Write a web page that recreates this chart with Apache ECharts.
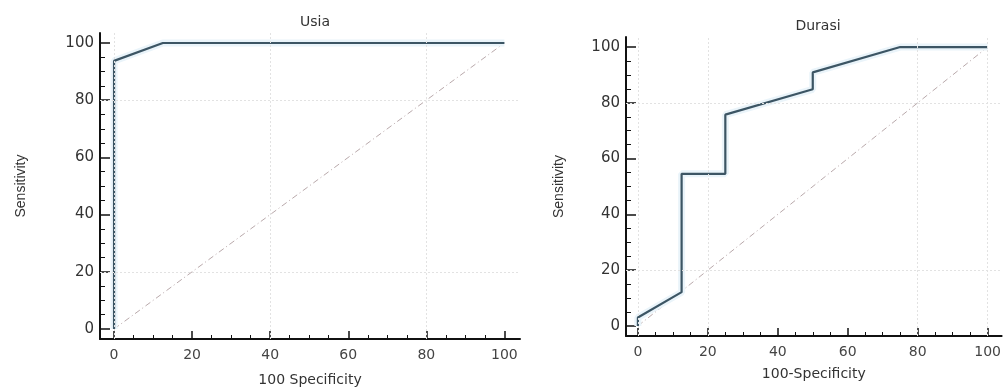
<!DOCTYPE html>
<html><head><meta charset="utf-8">
<script src="https://cdn.jsdelivr.net/npm/echarts@6/dist/echarts.min.js"></script>
<style>html,body{margin:0;padding:0;background:#fff}#c{width:1004px;height:392px}</style>
</head><body><div id="c"></div>
<script>
// ---- data ----
const titles = ['Usia', 'Durasi'];
const xNames = ['100 Specificity', '100-Specificity'];
const yName = 'Sensitivity';
const majorTicks = [0, 20, 40, 60, 80, 100];
const minorTicks = [5, 10, 15, 25, 30, 35, 45, 50, 55, 65, 70, 75, 85, 90, 95];
const usiaX = [0, 0, 12.5, 100];
const usiaY = [0, 93.75, 100, 100];
const durasiX = [0, 0, 12.5, 12.5, 25, 25, 50, 50, 75, 100];
const durasiY = [0, 3.03, 12.12, 54.55, 54.55, 75.76, 84.85, 90.91, 100, 100];
const diagX = [0, 100];
const diagY = [0, 100];

const zip = (a, b) => a.map((v, i) => [v, b[i]]);
const font = 'DejaVu Sans';
const grids = [
  {left: 100, top: 33, width: 420, height: 307},
  {left: 626, top: 37, width: 376, height: 299}
];
const ranges = [
  {xmin: -3.6, xmax: 104, ymin: -3.5, ymax: 103.5, yGap: 72, xGap: 34},
  {xmin: -3.4, xmax: 104, ymin: -3.6, ymax: 103.6, yGap: 60, xGap: 31}
];
const xAxes = [], yAxes = [], series = [];
ranges.forEach((r, g) => {
  xAxes.push({
    type: 'value', gridIndex: g, position: 'bottom', min: r.xmin, max: r.xmax,
    name: xNames[g], nameLocation: 'middle', nameGap: r.xGap,
    nameTextStyle: {fontFamily: font, fontSize: 14, color: '#333'},
    axisLine: {onZero: false, lineStyle: {color: '#111', width: 2}},
    axisTick: {show: true, inside: true, length: 8, customValues: majorTicks, lineStyle: {color: '#111', width: 1.5}},
    axisLabel: {customValues: majorTicks, fontFamily: font, fontSize: 14, color: '#444', margin: 9},
    splitLine: {show: false}
  });
  xAxes.push({
    type: 'value', gridIndex: g, position: 'bottom', min: r.xmin, max: r.xmax,
    axisLine: {show: false, onZero: false},
    axisTick: {show: true, inside: true, length: 4, customValues: minorTicks, lineStyle: {color: '#111', width: 1}},
    axisLabel: {show: false},
    splitLine: {show: false}
  });
  yAxes.push({
    type: 'value', gridIndex: g, position: 'left', min: r.ymin, max: r.ymax,
    name: yName, nameLocation: 'middle', nameGap: r.yGap, nameRotate: 90,
    nameTextStyle: {fontFamily: 'Liberation Sans', fontSize: 14, color: '#333'},
    axisLine: {onZero: false, lineStyle: {color: '#111', width: 2}},
    axisTick: {show: true, inside: true, length: 10, customValues: majorTicks, lineStyle: {color: '#111', width: 1.5}},
    axisLabel: {customValues: majorTicks, fontFamily: font, fontSize: 15, color: '#333', margin: 6},
    splitLine: {show: false}
  });
  yAxes.push({
    type: 'value', gridIndex: g, position: 'left', min: r.ymin, max: r.ymax,
    axisLine: {show: false, onZero: false},
    axisTick: {show: true, inside: true, length: 5, customValues: minorTicks, lineStyle: {color: '#111', width: 1}},
    axisLabel: {show: false},
    splitLine: {show: false}
  });
});
// faint grid lines via markLine on diagonal series
const gridLines = (g) => {
  const d = [];
  [20, 80].forEach(v => d.push({yAxis: v}));
  (g === 0 ? [0, 40, 80] : [0, 20, 80, 100]).forEach(v => d.push({xAxis: v}));
  return d;
};
[[usiaX, usiaY], [durasiX, durasiY]].forEach((s, g) => {
  series.push({
    type: 'line', xAxisIndex: g * 2, yAxisIndex: g * 2, data: zip(diagX, diagY),
    symbol: 'none', silent: true, z: 1,
    lineStyle: {color: '#b9a9ab', width: 1, type: [6, 3, 1, 3]},
    markLine: {silent: true, symbol: 'none', label: {show: false},
      lineStyle: {color: '#e2e2e2', width: 1, type: [2, 2]}, data: gridLines(g)}
  });
  series.push({
    type: 'line', xAxisIndex: g * 2, yAxisIndex: g * 2, data: zip(s[0], s[1]),
    symbol: 'none', silent: true, z: 2,
    lineStyle: {color: '#eaf4fa', width: 7}
  });
  series.push({
    type: 'line', xAxisIndex: g * 2, yAxisIndex: g * 2, data: zip(s[0], s[1]),
    symbol: 'none', z: 3,
    lineStyle: {color: '#3c5564', width: 2.2}
  });
});
const chart = echarts.init(document.getElementById('c'), null, {renderer: 'canvas'});
chart.setOption({
  animation: false,
  backgroundColor: '#ffffff',
  title: [
    {text: titles[0], left: 310, top: 10, textAlign: 'center', textStyle: {fontFamily: font, fontSize: 14, fontWeight: 'normal', color: '#333'}},
    {text: titles[1], left: 813, top: 14, textAlign: 'center', textStyle: {fontFamily: font, fontSize: 14, fontWeight: 'normal', color: '#333'}}
  ],
  grid: grids,
  xAxis: xAxes,
  yAxis: yAxes,
  series: series
});
</script></body></html>
